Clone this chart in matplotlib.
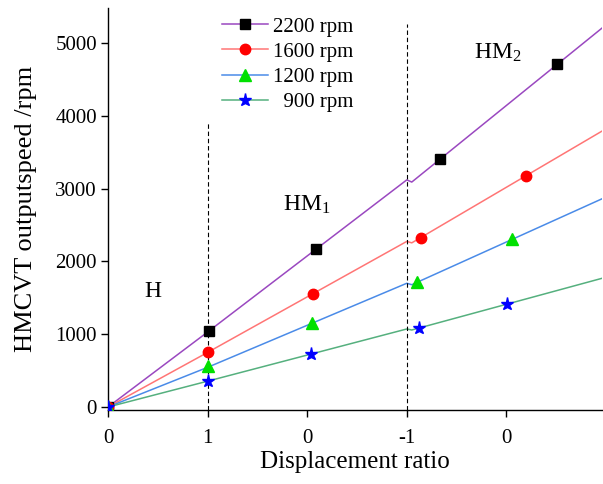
import matplotlib
matplotlib.use("Agg")
import matplotlib.pyplot as plt

# tick positions along the shift sequence and the ratio printed under each one
x_ticks = [0, 1, 2, 3, 4]
x_tick_labels = ["0", "1", "0", "-1", "0"]
y_ticks = [0, 1000, 2000, 3000, 4000, 5000]

# figure space keeps the three-digit speed aligned with the others
speeds = ["2200 rpm", "1600 rpm", "1200 rpm", "\u2007900 rpm"]

# output speed curves (H -> HM1 -> HM2), vertices of each polyline
x_2200 = [0, 1, 3, 3.05, 4.96]
y_2200 = [0, 1030, 3120, 3090, 5205]
x_1600 = [0, 1, 3, 3.05, 4.96]
y_1600 = [0, 750, 2275, 2255, 3790]
x_1200 = [0, 1, 3, 3.05, 4.96]
y_1200 = [0, 545, 1700, 1680, 2860]
x_900 = [0, 1, 3, 3.05, 4.96]
y_900 = [0, 355, 1072, 1058, 1768]

# sampled points shown with markers
mx_2200 = [0, 1.01, 2.09, 3.33, 4.51]
my_2200 = [0, 1040, 2165, 3400, 4705]
mx_1600 = [0, 1.0, 2.06, 3.14, 4.20]
my_1600 = [0, 750, 1555, 2325, 3180]
mx_1200 = [0, 1.0, 2.05, 3.10, 4.06]
my_1200 = [0, 565, 1160, 1715, 2305]
mx_900 = [0, 1.0, 2.04, 3.12, 4.01]
my_900 = [0, 358, 730, 1084, 1415]

plt.rcParams["font.family"] = ["Liberation Serif", "DejaVu Serif"]
plt.rcParams["mathtext.fontset"] = "custom"
plt.rcParams["mathtext.rm"] = "Liberation Serif"

fig = plt.figure(figsize=(6.03, 4.84), dpi=100)
ax = fig.add_axes([108 / 603, 74 / 484, 494 / 603, 402 / 484])

styles = [
    (x_2200, y_2200, mx_2200, my_2200, "#9a48c0", "s", "black", 6.5),
    (x_1600, y_1600, mx_1600, my_1600, "#ff7575", "o", "#ff0000", 7.5),
    (x_1200, y_1200, mx_1200, my_1200, "#4a8be8", "^", "#00e000", 8),
    (x_900, y_900, mx_900, my_900, "#55b07e", "*", "#0000ff", 9.5),
]
handles = []
for (lx, ly, mx, my, lc, mk, mc, ms), name in zip(styles, speeds):
    ax.plot(lx, ly, color=lc, lw=1.1, zorder=2)
    ax.plot(mx, my, ls="none", marker=mk, color=mc, ms=ms, mec=mc, zorder=3)
    h, = ax.plot([], [], color=lc, lw=1.1, marker=mk, mfc=mc, mec=mc, ms=ms)
    handles.append(h)

ylo, yhi = -41, 5481
ax.vlines(1, ylo, 3915, colors="black", linestyles=(0, (4, 2.5)), lw=0.8)
ax.vlines(3, ylo, 5261, colors="black", linestyles=(0, (4, 2.5)), lw=0.8)

ax.text(0.37, 1584, "H", fontsize=17, ha="left", va="center")
ax.text(1.76, 2775, r"$\mathrm{HM_1}$", fontsize=17, ha="left", va="center")
ax.text(3.67, 4863, r"$\mathrm{HM_2}$", fontsize=17, ha="left", va="center")

ax.set_xlim(0, 4.96)
ax.set_ylim(ylo, yhi)
ax.set_xticks(x_ticks)
ax.set_xticklabels(x_tick_labels)
ax.set_yticks(y_ticks)
ax.tick_params(axis="both", direction="out", length=5, width=1, labelsize=15)
ax.tick_params(axis="x", pad=9)
ax.tick_params(axis="y", pad=3)
for side in ("top", "right"):
    ax.spines[side].set_visible(False)
for side in ("left", "bottom"):
    ax.spines[side].set_linewidth(1)

ax.set_xlabel("Displacement ratio", fontsize=18, labelpad=2)
ax.set_ylabel("HMCVT outputspeed /rpm", fontsize=19, labelpad=13)

fig.legend(handles, speeds, loc="upper left", bbox_to_anchor=(222 / 603, 1 - 17 / 484),
           frameon=False, fontsize=15, numpoints=1, handlelength=2.2,
           handletextpad=0.25, labelspacing=0.27, borderpad=0, borderaxespad=0)

fig.savefig("out.png", dpi=100)
